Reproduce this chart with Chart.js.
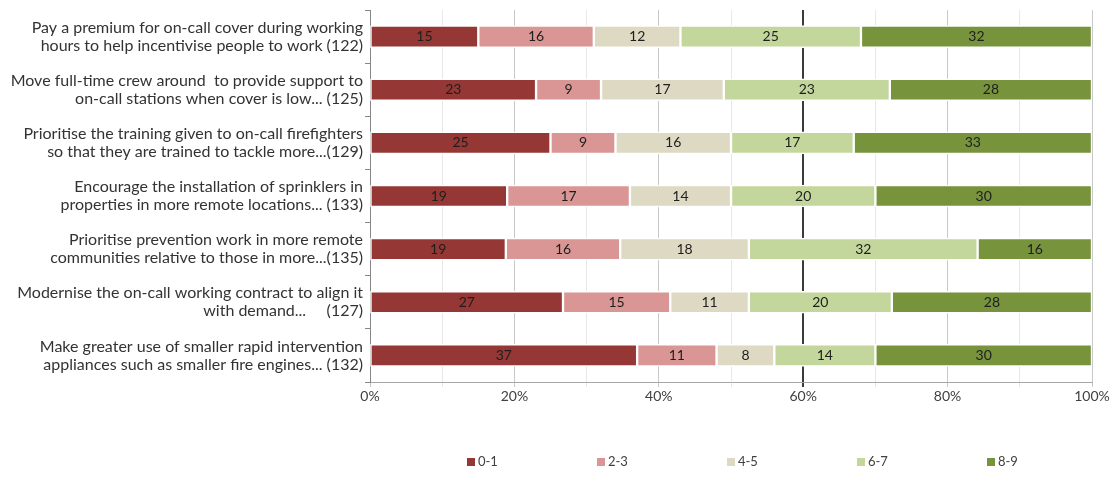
<!DOCTYPE html>
<html>
<head>
<meta charset="utf-8">
<script src="https://cdn.jsdelivr.net/npm/chart.js@4.4.1/dist/chart.umd.min.js"></script>
<style>
  html, body { margin: 0; padding: 0; background: #fff; }
  #wrap { width: 1115px; height: 485px; }
</style>
</head>
<body>
<div id="wrap"><canvas id="scoreChart" width="1115" height="485"></canvas></div>
<script>
// Câu hỏi (mỗi dòng một phần tử)
const categories = [
  ["Pay a premium for on-call cover during working", "hours to help incentivise people to work (122)"],
  ["Move full-time crew around  to provide support to", "on-call stations when cover is low... (125)"],
  ["Prioritise the training given to on-call firefighters", "so that they are trained to tackle more...(129)"],
  ["Encourage the installation of sprinklers in", "properties in more remote locations... (133)"],
  ["Prioritise prevention work in more remote", "communities relative to those in more...(135)"],
  ["Modernise the on-call working contract to align it", "with demand...     (127)"],
  ["Make greater use of smaller rapid intervention", "appliances such as smaller fire engines... (132)"],
];

const seriesNames = ["0-1", "2-3", "4-5", "6-7", "8-9"];
const score01 = [15, 23, 25, 19, 19, 27, 37];
const score23 = [16, 9, 9, 17, 16, 15, 11];
const score45 = [12, 17, 16, 14, 18, 11, 8];
const score67 = [25, 23, 17, 20, 32, 20, 14];
const score89 = [32, 28, 33, 30, 16, 28, 30];
const xTicks = [0, 20, 40, 60, 80, 100];

const colors = ["#953735", "#D99694", "#DDD9C3", "#C3D69B", "#77933C"];
const allSeries = [score01, score23, score45, score67, score89];

// Tổng mỗi hàng để quy về 100%
const rowTotals = categories.map((_, j) =>
  allSeries.reduce((sum, s) => sum + s[j], 0)
);

const datasets = allSeries.map((s, i) => ({
  label: seriesNames[i],
  counts: s,
  data: s.map((v, j) => (v / rowTotals[j]) * 100),
  backgroundColor: colors[i],
  borderColor: "#ffffff",
  borderWidth: 1.5,
  borderSkipped: false,
  barThickness: 22,
}));

const textFont = "Lato";

// Vẽ số liệu trong từng thanh
const barLabels = {
  id: "barLabels",
  afterDatasetsDraw(chart) {
    const ctx = chart.ctx;
    ctx.save();
    ctx.font = "14px '" + textFont + "'";
    ctx.fillStyle = "#1e1e1e";
    ctx.textAlign = "center";
    ctx.textBaseline = "middle";
    chart.data.datasets.forEach((ds, i) => {
      chart.getDatasetMeta(i).data.forEach((bar, j) => {
        const c = bar.getCenterPoint();
        ctx.fillText(String(ds.counts[j]), c.x, c.y);
      });
    });
    ctx.restore();
  },
};

// Chú thích ở dưới, căn giữa theo vùng biểu đồ
const bottomLegend = {
  id: "bottomLegend",
  afterDraw(chart) {
    const ctx = chart.ctx;
    const area = chart.chartArea;
    const cx = (area.left + area.right) / 2;
    const y = 462;
    ctx.save();
    ctx.font = "13px '" + textFont + "'";
    ctx.textBaseline = "middle";
    ctx.textAlign = "left";
    chart.data.datasets.forEach((ds, i) => {
      const x = cx - 4 + (i - 2) * 130;
      ctx.fillStyle = ds.backgroundColor;
      ctx.fillRect(x, y - 4, 8, 8);
      ctx.fillStyle = "#404040";
      ctx.fillText(ds.label, x + 11, y);
    });
    ctx.restore();
  },
};

const gridColor = (c) => {
  if (!c.tick) return "#d9d9d9";
  if (c.tick.value === 60) return "#3a3a3a";
  return c.tick.value % 20 === 0 ? "#c8c8c8" : "#e8e8e8";
};

const ctxScore = document.getElementById("scoreChart").getContext("2d");
const scoreChart = new Chart(ctxScore, {
  type: "bar",
  data: { labels: categories, datasets: datasets },
  plugins: [barLabels, bottomLegend],
  options: {
    indexAxis: "y",
    responsive: false,
    animation: false,
    devicePixelRatio: 1,
    layout: { padding: { top: 10, right: 23, bottom: 83, left: 0 } },
    plugins: {
      legend: { display: false },
      tooltip: { enabled: false },
    },
    scales: {
      x: {
        stacked: true,
        min: 0,
        max: 100,
        afterFit: (scale) => {
          scale.height = 20;
          scale.paddingLeft = 0;
          scale.paddingRight = 0;
        },
        afterBuildTicks: (scale) => {
          const t = [];
          for (let v = 0; v <= 100; v += 10) t.push({ value: v });
          scale.ticks = t;
        },
        ticks: {
          autoSkip: false,
          maxRotation: 0,
          padding: 1,
          color: "#404040",
          font: { family: textFont, size: 14 },
          callback: (v) => (xTicks.includes(v) ? v + "%" : ""),
        },
        grid: {
          color: gridColor,
          lineWidth: (c) => (c.tick && c.tick.value === 60 ? 2 : 1),
          tickLength: 5,
        },
        border: { color: "#a6a6a6" },
      },
      y: {
        stacked: true,
        afterFit: (scale) => {
          scale.width = 370;
          scale.paddingTop = 0;
          scale.paddingBottom = 0;
        },
        ticks: {
          padding: 2,
          color: "#333333",
          font: { family: textFont, size: 16, lineHeight: 1.125 },
        },
        grid: { drawOnChartArea: false, tickLength: 5, color: "#868686", offset: true },
        border: { color: "#868686" },
      },
    },
  },
});
</script>
</body>
</html>
